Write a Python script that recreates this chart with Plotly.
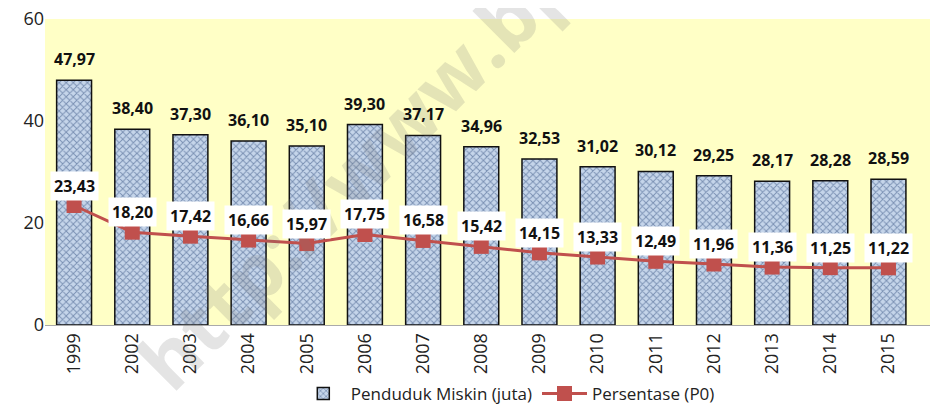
import plotly.graph_objects as go

years = ["1999", "2002", "2003", "2004", "2005", "2006", "2007", "2008",
         "2009", "2010", "2011", "2012", "2013", "2014", "2015"]
penduduk = [47.97, 38.40, 37.30, 36.10, 35.10, 39.30, 37.17, 34.96,
            32.53, 31.02, 30.12, 29.25, 28.17, 28.28, 28.59]
persentase = [23.43, 18.20, 17.42, 16.66, 15.97, 17.75, 16.58, 15.42,
              14.15, 13.33, 12.49, 11.96, 11.36, 11.25, 11.22]

def fmt(v):
    return f"{v:.2f}".replace(".", ",")

FONT = "Open Sans, Liberation Sans, sans-serif"

fig = go.Figure()
fig.add_trace(go.Bar(
    x=years, y=penduduk, name="Penduduk Miskin (juta)",
    width=0.6,
    marker=dict(color="#C5D5EA",
                line=dict(color="#111111", width=1.5),
                pattern=dict(shape="x", fgcolor="#2E4A7A", bgcolor="#C5D5EA",
                             size=5, solidity=0.35)),
))
fig.add_trace(go.Scatter(
    x=years, y=persentase, name="Persentase (P0)", mode="lines+markers",
    line=dict(color="#C0504D", width=3),
    marker=dict(symbol="square", size=15, color="#C0504D"),
))

ann = []
ann.append(dict(x=0.447, y=0.795, xref="paper", yref="paper",
                xanchor="center", yanchor="middle",
                text="<b>http://www.bps.go.id</b>", showarrow=False,
                textangle=-45, font=dict(size=78, color="rgba(120,120,120,0.2)",
                                         family=FONT)))
for i, v in enumerate(penduduk):
    ann.append(dict(x=i, y=v, xref="x", yref="y", text=f"<b>{fmt(v)}</b>",
                    showarrow=False, yshift=21,
                    font=dict(size=16, color="#111111", family=FONT)))
for i, v in enumerate(persentase):
    ann.append(dict(x=i, y=v, xref="x", yref="y", text=f"<b>{fmt(v)}</b>",
                    showarrow=False, yshift=20, bgcolor="white", borderpad=3,
                    font=dict(size=16, color="#111111", family=FONT)))

fig.update_layout(
    width=930, height=404,
    margin=dict(l=37, r=3, t=11, b=87, autoexpand=False),
    paper_bgcolor="white", plot_bgcolor="#FFFFC6",
    font=dict(family=FONT, size=16, color="#222222"),
    showlegend=True,
    legend=dict(orientation="h", x=0.52, xanchor="center", yref="container",
                y=0.0, yanchor="bottom", font=dict(size=17), tracegroupgap=0,
                itemwidth=45),
    annotations=ann,
)
fig.update_yaxes(range=[0, 60], dtick=20, showgrid=False, zeroline=False,
                 showline=False, tickfont=dict(size=18), ticks="", automargin=False,
                 ticklabeloverflow="allow")
fig.update_xaxes(type="category", range=[-0.5, len(years) - 0.2], showgrid=False,
                 showline=True, linecolor="#AAAAAA", automargin=False,
                 linewidth=1, tickangle=-90, tickfont=dict(size=18), ticks="")

fig.write_html("out.html")
